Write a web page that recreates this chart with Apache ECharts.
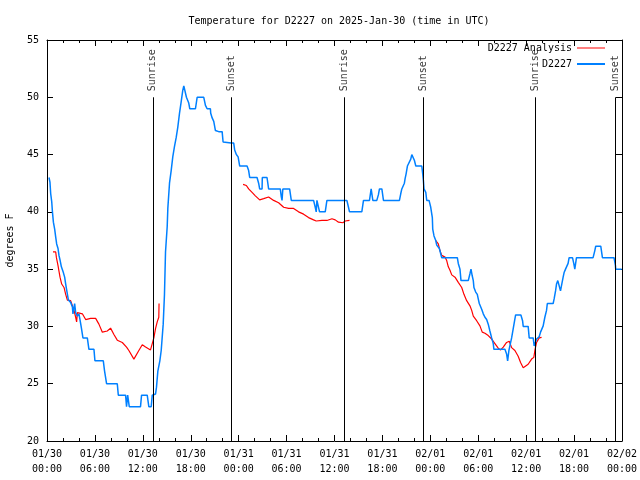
<!DOCTYPE html>
<html><head><meta charset="utf-8">
<script src="https://cdn.jsdelivr.net/npm/echarts@6/dist/echarts.min.js"></script>
<style>html,body{margin:0;padding:0;background:#fff}#c{width:640px;height:480px}</style>
</head><body><div id="c"></div><script>
const titleText = 'Temperature for D2227 on 2025-Jan-30 (time in UTC)';
const xTickLabels = ['01/30\n00:00','01/30\n06:00','01/30\n12:00','01/30\n18:00','01/31\n00:00','01/31\n06:00','01/31\n12:00','01/31\n18:00','02/01\n00:00','02/01\n06:00','02/01\n12:00','02/01\n18:00','02/02\n00:00'];
// hours since 01/30 00:00 UTC
const sunTimes = [13.25, 23.12, 37.25, 47.13, 61.13, 71.18];
const sunLabels = ['Sunrise','Sunset','Sunrise','Sunset','Sunrise','Sunset'];

const obsHours = [0.25,0.37,0.46,0.59,0.68,0.8,0.96,1.09,1.21,1.38,1.5,1.63,1.8,2.05,2.21,2.34,2.46,2.68,2.96,3.18,3.25,3.46,3.59,3.8,4.0,4.13,4.3,4.5,5.05,5.25,5.88,6.0,7.05,7.21,7.46,8.8,8.93,9.84,9.96,10.1,10.3,11.71,11.84,12.55,12.75,13.05,13.18,13.59,13.71,13.88,14.13,14.3,14.55,14.71,14.84,15.05,15.13,15.34,15.55,15.75,15.96,16.18,16.38,16.59,16.8,17.0,17.13,17.34,17.46,17.75,17.88,18.59,18.8,19.63,19.84,20.05,20.46,20.5,20.68,20.88,21.09,21.5,21.93,22.05,23.05,23.38,23.5,23.71,23.93,24.13,25.05,25.25,25.38,26.3,26.5,26.63,26.93,26.96,27.55,27.75,29.21,29.34,29.43,29.53,30.38,30.59,33.38,33.59,33.71,33.8,33.96,34.13,34.84,35.05,37.55,37.75,37.88,39.42,39.63,40.38,40.59,40.8,41.3,41.5,41.63,41.93,42.13,44.13,44.3,44.43,44.75,44.84,44.96,45.13,45.34,45.55,45.68,45.88,46.0,46.18,46.93,47.05,47.13,47.21,47.43,47.55,47.84,48.05,48.25,48.3,48.46,48.68,48.8,48.96,49.13,49.43,51.38,51.5,51.71,51.84,52.75,52.96,53.09,53.25,53.38,53.46,53.68,53.88,54.0,54.13,54.43,54.63,54.84,55.05,55.25,55.46,55.68,55.88,55.96,57.34,57.55,57.68,57.84,57.96,58.18,58.38,58.59,58.68,59.34,59.55,59.63,60.25,60.38,60.88,61.0,61.21,61.3,61.63,61.8,62.13,62.34,62.55,62.65,63.38,63.5,63.68,63.8,63.96,64.15,64.3,64.46,64.63,64.75,64.93,65.09,65.25,65.38,65.8,65.96,66.09,66.3,68.38,68.59,68.71,69.34,69.55,71.0,71.18,71.21,71.96];
const obsTemps = [43,42.6,41.6,40.9,40,39.1,38.5,37.8,37.2,36.8,36.2,35.8,35.2,34.7,34.3,33.7,33.2,32.3,32.1,31.7,31.1,32,31.2,30.9,31.1,30.6,29.9,29,29,28,28,27,27,26.1,25,25,24,24,23,24,23,23,24,24,23,23,24,24.1,24.7,26.1,27,27.9,30.2,32.8,36.5,38.7,40.3,42.5,43.6,44.8,45.7,46.5,47.4,48.6,49.6,50.6,51,51,50,49.5,49,49,50,50,49.3,49,49,48.6,48.2,47.9,47.1,47,47,46.1,46,46,45.4,45,44.8,44,44,43.6,43,43,42.5,42,42,43,43,42,42,41.3,41,42,42,41,41,40.4,40,41,41,40,40,41,41,40.4,40,40,41,41,42,41,41,41.5,42,42,41,41,41.6,42,42.5,42.9,43.3,44,44,44.6,45,45,44.5,44,44,43.3,42.75,42,41.7,41,41,40.4,39.5,38.5,37.9,37.5,37.1,37.1,36.8,36,36,35.5,35,34,34,34.6,35,34.4,34,33.4,33,32.8,32.4,32,31.5,31.1,30.8,30.6,30.2,29.6,29,28.5,28,28,27.6,27,27.9,28.3,29,29.8,30.65,31,31,30.5,30,30,29,29,28.3,28.3,28.9,29.1,29.5,30.05,30.8,31.4,32,32,32.4,33.1,33.7,34,34,33.1,33.7,34.3,34.7,35,35,35.5,36,36,35.5,35,36,36,36.6,37,37,36,36,35.3,35,35];

// analysis; null marks a gap between runs
const anaHours = [0.75,1.09,1.18,1.38,1.63,1.84,2.13,2.34,2.55,2.96,3.18,3.38,3.59,3.71,3.8,4.0,4.43,4.84,5.46,6.09,6.5,6.93,7.55,7.96,8.38,8.8,9.43,9.96,10.25,10.88,11.09,11.5,11.93,12.34,12.96,13.18,13.38,13.59,13.8,14.0,14.03,
 19,
 24.55,24.96,25.25,25.68,26.09,26.63,27.13,27.75,28.38,29.0,29.63,30.25,30.88,31.5,32.13,32.75,33.38,33.71,34.43,35.05,35.68,36.09,36.5,37.05,37.34,37.88,
 43,
 48.68,49.0,49.21,49.43,49.84,50.05,50.25,50.46,50.68,51.09,51.5,51.93,52.21,52.55,52.96,53.18,53.38,53.8,54.21,54.5,54.84,55.25,55.68,56.09,56.5,56.8,57.13,57.55,57.88,58.18,58.59,59.0,59.3,59.63,59.84,60.25,60.68,60.96,61.09,61.3,61.63,61.93];
const anaTemps = [36.5,36.5,36,35.3,34.3,33.7,33.4,32.8,32.3,32.25,31.8,31.4,30.8,30.4,31.2,31.3,31.1,30.6,30.7,30.7,30.2,29.5,29.6,29.85,29.3,28.8,28.6,28.2,27.9,27.15,27.15,27.9,28.4,28.2,27.95,28.5,29,29.8,30.4,30.8,32,
 null,
 42.4,42.3,42,41.7,41.4,41.05,41.15,41.3,41,40.8,40.4,40.3,40.3,40,39.8,39.5,39.3,39.2,39.25,39.25,39.4,39.3,39.1,39.05,39.2,39.25,
 null,
 37.5,37.2,36.6,36.2,36.05,35.75,35.2,34.9,34.5,34.3,33.85,33.4,32.8,32.25,31.8,31.4,30.9,30.5,30.05,29.5,29.4,29.2,28.9,28.5,28.1,27.95,28.2,28.6,28.7,28.15,27.9,27.4,26.85,26.4,26.35,26.7,27.15,27.3,27.9,28.6,29,29.05];

const FONT = 'DejaVu Sans Mono';
const RED = '#ff0000', BLUE = '#0080ff';
const txt = {fontFamily: FONT, fontSize: 10, color: '#000'};

const chart = echarts.init(document.getElementById('c'));
const xBase = {type:'value', min:0, max:72, interval:6,
  axisLine:{show:true, onZero:false, lineStyle:{color:'#000', width:1}},
  axisTick:{show:true, inside:true, length:6, lineStyle:{color:'#000'}},
  minorTick:{show:true, splitNumber:3, length:3, lineStyle:{color:'#000'}},
  splitLine:{show:false}, minorSplitLine:{show:false}};
const yBase = {type:'value', min:20, max:55, interval:5,
  axisLine:{show:true, onZero:false, lineStyle:{color:'#000', width:1}},
  axisTick:{show:true, inside:true, length:6, lineStyle:{color:'#000'}},
  splitLine:{show:false}};

chart.setOption({
  animation:false,
  backgroundColor:'#fff',
  title:{text:titleText, left:334, top:11, textAlign:'center',
    textStyle:Object.assign({fontWeight:'normal'}, txt)},
  grid:{left:47, right:18, top:40, bottom:39, outerBoundsMode:'none', containLabel:false},
  xAxis:[
    Object.assign({}, xBase, {position:'bottom',
      axisLabel:Object.assign({formatter:(v)=>xTickLabels[Math.round(v/6)], margin:6, lineHeight:15}, txt)}),
    Object.assign({}, xBase, {position:'top', axisLabel:{show:false}})
  ],
  yAxis:[
    Object.assign({}, yBase, {position:'left', name:'degrees F', nameLocation:'middle', nameGap:32, nameRotate:90,
      nameTextStyle:txt, axisLabel:Object.assign({margin:8}, txt)}),
    Object.assign({}, yBase, {position:'right', axisLabel:{show:false}})
  ],
  legend:[
    {data:['D2227 Analysis'], right:30, top:38, align:'right', icon:'rect', itemWidth:28, itemHeight:1, textStyle:txt, selectedMode:false},
    {data:['D2227'], right:30, top:54, align:'right', icon:'rect', itemWidth:28, itemHeight:2, textStyle:txt, selectedMode:false}
  ],
  series:[
    {type:'scatter', name:'sun', silent:true, symbolSize:0,
      data: sunTimes.map((t,i)=>({value:[t,50], name:sunLabels[i]})),
      label:{show:true, formatter:'{b}', position:'top', distance:6, rotate:90, align:'left', verticalAlign:'middle',
        fontFamily:FONT, fontSize:10, color:'#000'},
      markLine:{silent:true, symbol:'none', animation:false, label:{show:false},
        lineStyle:{color:'#000', width:1, type:'solid'},
        data: sunTimes.map(t=>[{coord:[t,50]},{coord:[t,20]}])}
    },
    {type:'line', name:'D2227 Analysis', color:RED, showSymbol:false, symbol:'none', connectNulls:false,
      lineStyle:{color:RED, width:1.2},
      data: anaHours.map((h,i)=>[h, anaTemps[i] === null ? '-' : anaTemps[i]])},
    {type:'line', name:'D2227', color:BLUE, showSymbol:false, symbol:'none',
      lineStyle:{color:BLUE, width:1.5},
      data: obsHours.map((h,i)=>[h, obsTemps[i]])}
  ]
});
</script></body></html>
